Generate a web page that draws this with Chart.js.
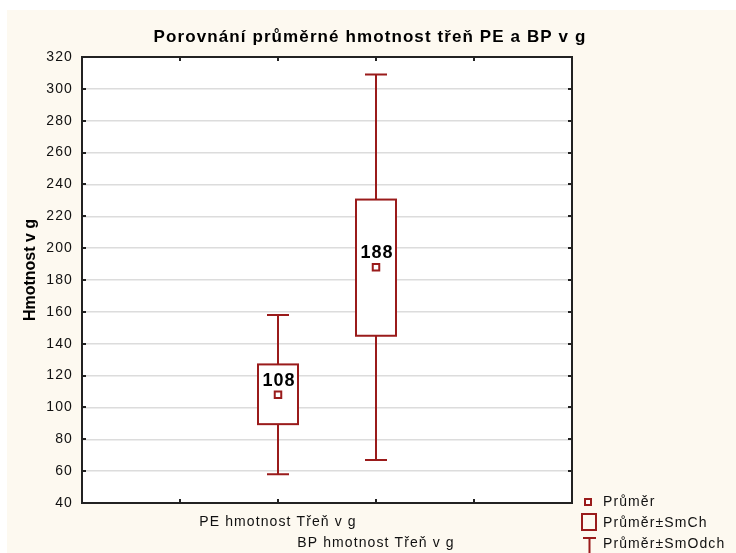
<!DOCTYPE html>
<html>
<head>
<meta charset="utf-8">
<script src="https://cdn.jsdelivr.net/npm/chart.js@4.4.0/dist/chart.umd.min.js"></script>
<style>
  html, body { margin: 0; padding: 0; background: #fff; }
  canvas { display: block; }
</style>
</head>
<body>
<canvas id="c" width="736" height="553" style="width:736px;height:553px"></canvas>
<script>
// data
var categories = ['PE hmotnost Třeň v g', 'BP hmotnost Třeň v g'];
var xPos       = [2, 3];
var means      = [108, 188];
var seLow      = [89.5, 145];
var seHigh     = [127, 230.5];
var sdLow      = [58, 67];
var sdHigh     = [158, 309];
var yMin = 40, yMax = 320, yStep = 20;
var xMin = 0, xMax = 5;

var title      = 'Porovnání průměrné hmotnost třeň PE a BP v g';
var yTitle     = 'Hmotnost v g';
var legendText = ['Průměr', 'Průměr±SmCh', 'Průměr±SmOdch'];

var red   = '#9a1b1b';
var cream = '#fdf9f0';
var font  = "Arial, 'Liberation Sans', sans-serif";

function spacing(ctx, px) {
  if (ctx.letterSpacing !== undefined) ctx.letterSpacing = px + 'px';
}

var boxPlugin = {
  id: 'boxes',
  beforeDraw: function(chart) {
    var ctx = chart.ctx;
    ctx.save();
    ctx.fillStyle = '#fff';
    ctx.fillRect(0, 0, chart.width, chart.height);
    ctx.fillStyle = cream;
    ctx.fillRect(7, 10, chart.width - 7, chart.height - 10);
    var a = chart.chartArea;
    ctx.fillStyle = '#fff';
    ctx.fillRect(a.left, a.top, a.right - a.left, a.bottom - a.top);
    ctx.restore();
    // wider letter spacing like the original, used by the tick labels too
    spacing(ctx, 1.1);
  },
  beforeDatasetsDraw: function(chart) {
    var ctx = chart.ctx, xs = chart.scales.x, ys = chart.scales.y;
    ctx.save();
    ctx.strokeStyle = red;
    ctx.lineWidth = 2;
    for (var i = 0; i < xPos.length; i++) {
      var cx = Math.round(xs.getPixelForValue(xPos[i]));
      var yb = ys.getPixelForValue(seLow[i]), yt = ys.getPixelForValue(seHigh[i]);
      var wl = ys.getPixelForValue(sdLow[i]), wh = ys.getPixelForValue(sdHigh[i]);
      // whiskers
      ctx.beginPath();
      ctx.moveTo(cx, yt); ctx.lineTo(cx, wh);
      ctx.moveTo(cx, yb); ctx.lineTo(cx, wl);
      ctx.moveTo(cx - 11, wh); ctx.lineTo(cx + 11, wh);
      ctx.moveTo(cx - 11, wl); ctx.lineTo(cx + 11, wl);
      ctx.stroke();
      // box
      ctx.fillStyle = '#fff';
      ctx.fillRect(cx - 20, yt, 40, yb - yt);
      ctx.strokeRect(cx - 20, yt, 40, yb - yt);
    }
    ctx.restore();
  },
  afterDatasetsDraw: function(chart) {
    var ctx = chart.ctx, xs = chart.scales.x, ys = chart.scales.y, a = chart.chartArea;
    ctx.save();
    // mean labels
    ctx.fillStyle = '#000';
    ctx.font = 'bold 18px ' + font;
    ctx.textAlign = 'center';
    ctx.textBaseline = 'middle';
    spacing(ctx, 1);
    for (var i = 0; i < xPos.length; i++) {
      ctx.fillText(String(Math.round(means[i])), xs.getPixelForValue(xPos[i]) + 1, ys.getPixelForValue(means[i]) - 14);
    }

    // frame + inward ticks
    ctx.strokeStyle = '#222';
    ctx.lineWidth = 2;
    ctx.strokeRect(a.left, a.top, a.right - a.left, a.bottom - a.top);
    ctx.beginPath();
    for (var v = yMin + yStep; v < yMax; v += yStep) {
      var y = Math.round(ys.getPixelForValue(v));
      ctx.moveTo(a.left, y); ctx.lineTo(a.left + 4, y);
      ctx.moveTo(a.right, y); ctx.lineTo(a.right - 4, y);
    }
    for (var k = xMin + 1; k < xMax; k++) {
      var x = Math.round(xs.getPixelForValue(k));
      ctx.moveTo(x, a.top); ctx.lineTo(x, a.top + 4);
      ctx.moveTo(x, a.bottom); ctx.lineTo(x, a.bottom - 4);
    }
    ctx.stroke();

    // title
    ctx.fillStyle = '#000';
    ctx.font = 'bold 17px ' + font;
    ctx.textAlign = 'center';
    spacing(ctx, 1.1);
    ctx.fillText(title, 370, 37);

    // y title
    ctx.save();
    ctx.translate(31, 270);
    ctx.rotate(-Math.PI / 2);
    ctx.font = 'bold 16px ' + font;
    spacing(ctx, 0);
    ctx.fillText(yTitle, 0, 0);
    ctx.restore();

    // legend
    ctx.strokeStyle = red;
    ctx.lineWidth = 2;
    ctx.fillStyle = '#fff';
    ctx.fillRect(585, 499, 6, 6);
    ctx.strokeRect(585, 499, 6, 6);
    ctx.strokeRect(582, 514, 14, 16);
    ctx.beginPath();
    ctx.moveTo(583, 538); ctx.lineTo(596, 538);
    ctx.moveTo(589.5, 538); ctx.lineTo(589.5, 553);
    ctx.stroke();
    ctx.fillStyle = '#111';
    ctx.font = '14px ' + font;
    ctx.textAlign = 'left';
    spacing(ctx, 1.1);
    ctx.fillText(legendText[0], 603, 502);
    ctx.fillText(legendText[1], 603, 523);
    ctx.fillText(legendText[2], 603, 544);
    ctx.restore();
  }
};

new Chart(document.getElementById('c'), {
  type: 'scatter',
  data: {
    datasets: [{
      data: xPos.map(function(x, i) { return { x: x, y: means[i] }; }),
      pointStyle: 'rect',
      pointRadius: 4.6,
      pointHoverRadius: 4.6,
      borderColor: red,
      backgroundColor: '#fff',
      borderWidth: 2
    }]
  },
  options: {
    responsive: false,
    animation: false,
    devicePixelRatio: 1,
    layout: { padding: { left: 0, right: 164, top: 57, bottom: 0 } },
    plugins: { legend: { display: false }, tooltip: { enabled: false }, title: { display: false } },
    scales: {
      x: {
        type: 'linear', min: xMin, max: xMax,
        afterFit: function(s) { s.height = 50; },
        afterBuildTicks: function(s) {
          var t = [];
          for (var k = xMin; k <= xMax; k++) t.push({ value: k });
          s.ticks = t;
        },
        grid: { display: false, drawTicks: false },
        border: { display: false },
        ticks: {
          autoSkip: false, maxRotation: 0, minRotation: 0, padding: 9,
          color: '#111',
          font: { family: font, size: 14, lineHeight: 1.5 },
          callback: function(v) {
            var i = xPos.indexOf(v);
            if (i < 0) return '';
            return i === 0 ? categories[i] : ['', categories[i]];
          }
        }
      },
      y: {
        min: yMin, max: yMax,
        afterFit: function(s) { s.width = 82; },
        grid: { color: '#dcdcdc', lineWidth: 1.5, drawTicks: false },
        border: { display: false },
        ticks: {
          stepSize: yStep, padding: 9, color: '#111',
          font: { family: font, size: 14 }
        }
      }
    }
  },
  plugins: [boxPlugin]
});
</script>
</body>
</html>
